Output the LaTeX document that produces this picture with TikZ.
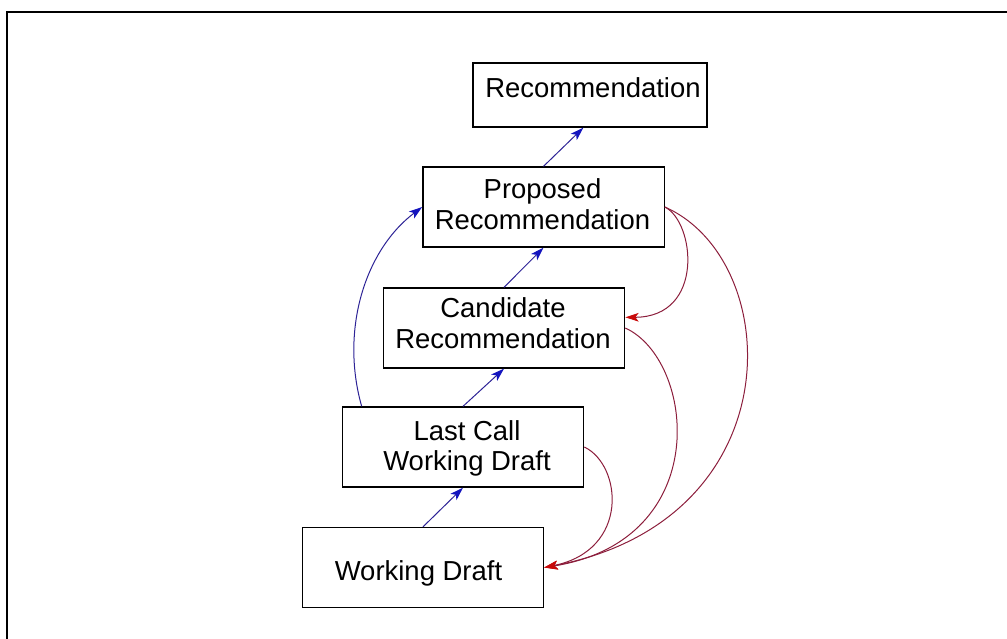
\documentclass[tikz,border=0pt]{standalone}
\usepackage{fontspec}
\setmainfont{Liberation Sans}
\usetikzlibrary{arrows.meta}
\definecolor{bluelink}{RGB}{45,35,150}
\definecolor{bluehead}{RGB}{20,20,190}
\definecolor{redlink}{RGB}{140,30,60}
\definecolor{redhead}{RGB}{200,10,10}
\begin{document}
\begin{tikzpicture}[x=0.75pt,y=-0.75pt,
  statebox/.style={draw=black, line width=1pt, inner sep=0pt, minimum width=181pt, minimum height=60pt},
  lbl/.style={font=\fontsize{20.6}{23}\selectfont, align=center, inner sep=0pt},
  blueedge/.style={draw=bluelink, line width=0.75pt, -{Stealth[length=10pt,width=6.5pt,inset=2.5pt,color=bluehead]}},
  rededge/.style={draw=redlink, line width=0.75pt, -{Stealth[length=10pt,width=6.5pt,inset=2.5pt,color=redhead]}},
  frameline/.style={draw=black, line width=1.5pt}]
\useasboundingbox (0,0) rectangle (1007,639);
\draw[frameline] (7,639) -- (7,12) -- (1007,12);
% boxes
\node[statebox, minimum width=175.5pt, minimum height=48pt] (rec) at (590,95) {};
\node[statebox] (pr) at (543.5,207) {};
\node[statebox] (cr) at (504,328) {};
\node[statebox] (lc) at (463,447) {};
\node[statebox] (wd) at (423,567.5) {};
% labels
\node[lbl] (recT) at (593,87.5) {Recommendation};
\node[lbl] (prT) at (542.5,204) {Proposed\\Recommendation};
\node[lbl] (crT) at (503,323.5) {Candidate\\Recommendation};
\node[lbl] (lcT) at (467,448.5) {Last Call\\Working Draft};
\node[lbl] (wdT) at (418.5,573) {Working Draft};
% blue promotions
\draw[blueedge] (wd.north) -- (lc.south);
\draw[blueedge] (lc.north) -- (cr.south);
\draw[blueedge] (cr.north) -- (pr.south);
\draw[blueedge] (pr.north) -- ([xshift=-5pt]rec.south);
\draw[blueedge] ([xshift=15pt]lc.north west) .. controls (340,330) and (365,250) .. (pr.west);
% red returns
\draw[rededge] (pr.east) .. controls (695,222) and (705,317) .. ([yshift=8pt]cr.east);
\draw[rededge] (pr.east) .. controls (785,260) and (795,520) .. (wd.east);
\draw[rededge] (cr.east) .. controls (695,360) and (715,540) .. (wd.east);
\draw[rededge] (lc.east) .. controls (622,465) and (630,550) .. (wd.east);
\end{tikzpicture}
\end{document}
